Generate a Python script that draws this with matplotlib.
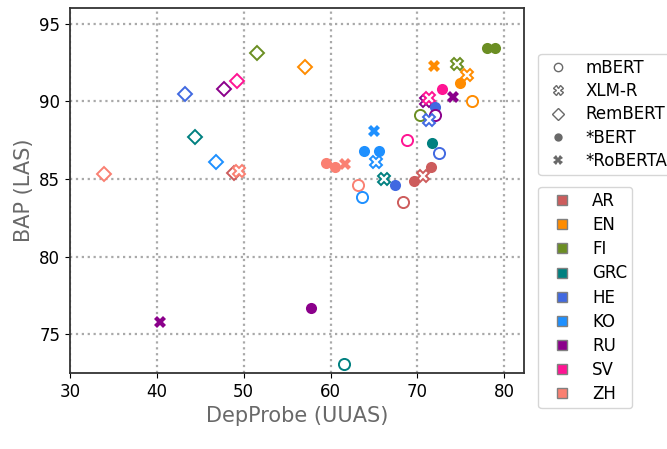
import matplotlib.pyplot as plt
from matplotlib.lines import Line2D

# language colours
langs = ["AR", "EN", "FI", "GRC", "HE", "KO", "RU", "SV", "ZH"]
colors = ["indianred", "darkorange", "olivedrab", "teal", "royalblue",
          "dodgerblue", "darkmagenta", "deeppink", "salmon"]

# model -> marker, filled?
models = ["mBERT", "XLM-R", "RemBERT", "*BERT", "*RoBERTA"]
markers = {"mBERT": ("o", False), "XLM-R": ("X", False), "RemBERT": ("D", False),
           "*BERT": ("o", True), "*RoBERTA": ("X", True)}

# points: language, model, DepProbe (UUAS), BAP (LAS)
pt_lang = ["ZH", "HE", "GRC", "KO", "AR", "ZH", "RU", "SV", "FI", "EN",
           "FI", "FI", "EN", "FI", "EN", "EN", "SV", "RU", "EN", "RU",
           "SV", "HE", "RU", "FI", "HE", "KO", "SV", "GRC", "HE", "KO",
           "KO", "KO", "ZH", "ZH", "ZH", "AR", "AR", "AR", "GRC", "HE",
           "ZH", "KO", "AR", "RU", "RU", "GRC"]
pt_model = ["RemBERT", "RemBERT", "RemBERT", "RemBERT", "RemBERT", "XLM-R", "RemBERT", "RemBERT", "RemBERT", "RemBERT",
            "*BERT", "*BERT", "*RoBERTA", "XLM-R", "XLM-R", "*BERT", "*BERT", "*RoBERTA", "mBERT", "XLM-R",
            "XLM-R", "*BERT", "mBERT", "mBERT", "XLM-R", "*RoBERTA", "mBERT", "*BERT", "mBERT", "*BERT",
            "*BERT", "XLM-R", "*BERT", "*BERT", "*RoBERTA", "*BERT", "XLM-R", "*BERT", "XLM-R", "*BERT",
            "mBERT", "mBERT", "mBERT", "*BERT", "*RoBERTA", "mBERT"]
pt_x = [33.9, 43.2, 44.4, 46.8, 48.9, 49.4, 47.7, 49.2, 51.5, 57.1,
        78.0, 78.9, 71.9, 74.5, 75.7, 74.9, 72.8, 74.1, 76.3, 71.0,
        71.3, 72.05, 72.05, 70.25, 71.3, 65.0, 68.8, 71.7, 72.5, 63.8,
        65.55, 65.2, 59.5, 60.5, 61.65, 71.6, 70.6, 69.6, 66.2, 67.4,
        63.1, 63.6, 68.3, 57.8, 40.4, 61.5]
pt_y = [85.3, 90.5, 87.7, 86.1, 85.4, 85.5, 90.8, 91.3, 93.1, 92.2,
        93.4, 93.4, 92.3, 92.4, 91.7, 91.2, 90.8, 90.3, 90.0, 90.05,
        90.2, 89.6, 89.1, 89.1, 88.8, 88.1, 87.5, 87.3, 86.7, 86.8,
        86.8, 86.1, 86.0, 85.8, 85.95, 85.8, 85.2, 84.9, 85.0, 84.6,
        84.6, 83.85, 83.5, 76.7, 75.8, 73.1]

col = dict(zip(langs, colors))
sizes = {"o": 8, "X": 9, "D": 7}

fig = plt.figure(figsize=(6.67, 4.49), dpi=100)
ax = fig.add_axes([0.105, 0.169, 0.681, 0.813])

for lg, md, x, y in zip(pt_lang, pt_model, pt_x, pt_y):
    m, filled = markers[md]
    if filled:
        ax.plot(x, y, marker=m, color=col[lg], markersize=sizes[m], linestyle="none",
                markeredgewidth=0)
    else:
        ax.plot(x, y, marker=m, markerfacecolor="white", markeredgecolor=col[lg],
                markersize=sizes[m], linestyle="none", markeredgewidth=1.4)

ax.set_xlim(30, 82.3)
ax.set_ylim(72.5, 96)
ax.set_xticks([30, 40, 50, 60, 70, 80])
ax.set_yticks([75, 80, 85, 90, 95])
ax.tick_params(labelsize=12)
ax.grid(True, linestyle=":", color="darkgray", linewidth=1.6)
ax.set_axisbelow(True)
for s in ax.spines.values():
    s.set_color("#333333")
    s.set_linewidth(1.3)
ax.set_xlabel("DepProbe (UUAS)", fontsize=15, color="dimgray")
ax.set_ylabel("BAP (LAS)", fontsize=15, color="dimgray")

gray = "dimgray"
h1 = []
for md in models:
    m, filled = markers[md]
    ms = 7 if m == "X" else 6
    if filled:
        h1.append(Line2D([], [], marker=m, color=gray, linestyle="none", markersize=ms,
                         markeredgewidth=0, label=md))
    else:
        h1.append(Line2D([], [], marker=m, markerfacecolor="white", markeredgecolor=gray,
                         linestyle="none", markersize=ms, markeredgewidth=1, label=md))
leg1 = ax.legend(handles=h1, loc="upper left", bbox_to_anchor=(1.031, 0.875),
                 fontsize=12, handlelength=1.8, handletextpad=0.72, labelspacing=0.32,
                 borderpad=0.3, borderaxespad=0)
ax.add_artist(leg1)

h2 = [Line2D([], [], marker="s", markerfacecolor=c, markeredgecolor="gray",
             linestyle="none", markersize=6.5, markeredgewidth=1, label=l)
      for l, c in zip(langs, colors)]
ax.legend(handles=h2, loc="upper left", bbox_to_anchor=(1.031, 0.51),
          fontsize=12, handlelength=2.24, handletextpad=0.68, labelspacing=0.37,
          borderpad=0.3, borderaxespad=0)

fig.savefig("out.png", dpi=100)
